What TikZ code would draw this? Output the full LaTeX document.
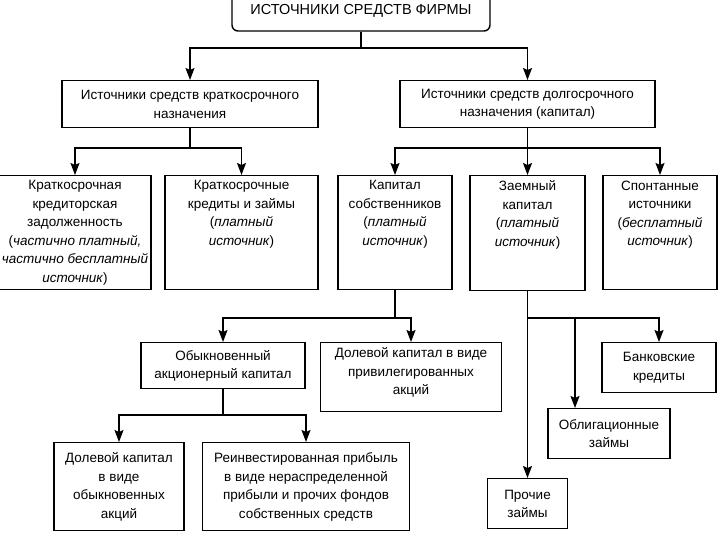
\documentclass[tikz,border=0pt]{standalone}
\usepackage{fontspec}
\setmainfont{Liberation Sans}
\usetikzlibrary{arrows.meta}

\tikzset{
  box/.style={draw, line width=1.4pt, align=center, inner xsep=3pt, inner ysep=5pt,
    font=\fontsize{13.5}{18.5}\selectfont},
  arr/.style={line width=1.4pt, -{Stealth[length=12pt,width=9pt,inset=2pt]}},
  ln/.style={line width=1.4pt}
}

\begin{document}
\begin{tikzpicture}[x=1pt,y=-1pt]
  \useasboundingbox (0,0) rectangle (720,540);

  % top level
  \node[box, rounded corners=6pt, minimum width=258pt, minimum height=40pt,
    font=\fontsize{14.5}{18}\selectfont] (firm) at (361,11) {ИСТОЧНИКИ СРЕДСТВ ФИРМЫ};

  % second level
  \node[box, minimum width=256pt, minimum height=47pt, anchor=north] (short) at (190,80)
    {Источники средств краткосрочного\\назначения};
  \node[box, minimum width=255pt, minimum height=47pt, anchor=north] (long) at (527.5,80)
    {Источники средств долгосрочного\\назначения (капитал)};

  % third level
  \node[box, minimum width=148pt, text depth=2pt, anchor=north] (kzad) at (75,175)
    {Краткосрочная\\кредиторская\\задолженность\\(\textit{частично платный,}\\\textit{частично бесплатный}\\\textit{источник})};
  \node[box, minimum width=153pt, text depth=39pt, anchor=north] (kkred) at (241.5,175)
    {Краткосрочные\\кредиты и займы\\(\textit{платный}\\\textit{источник})};
  \node[box, minimum width=114pt, text depth=39pt, anchor=north] (sobst) at (395,175)
    {Капитал\\собственников\\(\textit{платный}\\\textit{источник})};
  \node[box, minimum width=115pt, text depth=39pt, anchor=north] (zaem) at (527.5,175)
    {Заемный\\капитал\\(\textit{платный}\\\textit{источник})};
  \node[box, minimum width=114pt, text depth=39pt, anchor=north] (spont) at (660,175)
    {Спонтанные\\источники\\(\textit{бесплатный}\\\textit{источник})};

  % equity
  \node[box, minimum width=164pt, minimum height=46pt, anchor=north] (obyk) at (223,342)
    {Обыкновенный\\акционерный капитал};
  \node[box, minimum width=181pt, text depth=12pt, anchor=north] (privil) at (411,342)
    {Долевой капитал в виде\\привилегированных\\акций};
  \node[box, minimum width=130pt, minimum height=88pt, anchor=north] (dolob) at (119,442)
    {Долевой капитал\\в виде\\обыкновенных\\акций};
  \node[box, minimum width=207pt, minimum height=88pt, anchor=north] (reinv) at (306,442)
    {Реинвестированная прибыль\\в виде нераспределенной\\прибыли и прочих фондов\\собственных средств};

  % debt
  \node[box, minimum width=114pt, minimum height=50pt, anchor=north] (bank) at (659,342)
    {Банковские\\кредиты};
  \node[box, minimum width=122pt, minimum height=50pt, anchor=north] (oblig) at (609,408)
    {Облигационные\\займы};
  \node[box, minimum width=80pt, minimum height=50pt, anchor=north] (proch) at (527.5,478)
    {Прочие\\займы};

  % junctions
  \coordinate (j1) at (361,48);
  \coordinate (j2) at (190,148);
  \coordinate (j3) at (527.5,148);
  \coordinate (j4) at (395,318);
  \coordinate (j5) at (527.5,318);
  \coordinate (j6) at (575,318);
  \coordinate (j7) at (223,415);

  \draw[ln] (firm) -- (j1);
  \draw[arr] (j1) -| (short);
  \draw[arr] (j1) -| (long);

  \draw[ln] (short) -- (j2);
  \draw[arr] (j2) -| (kzad);
  \draw[arr] (j2) -| (kkred);

  \draw[ln] (long) -- (j3);
  \draw[arr] (j3) -| (sobst);
  \draw[arr] (j3) -- (zaem);
  \draw[arr] (j3) -| (spont);

  \draw[ln] (sobst) -- (j4);
  \draw[arr] (j4) -| (obyk);
  \draw[arr] (j4) -| (privil);

  \draw[arr] (zaem) -- (proch);
  \draw[arr] (j5) -| (bank);
  \draw[arr] (j6) -- (j6 |- oblig.north);

  \draw[ln] (obyk) -- (j7);
  \draw[arr] (j7) -| (dolob);
  \draw[arr] (j7) -| (reinv);
\end{tikzpicture}
\end{document}
